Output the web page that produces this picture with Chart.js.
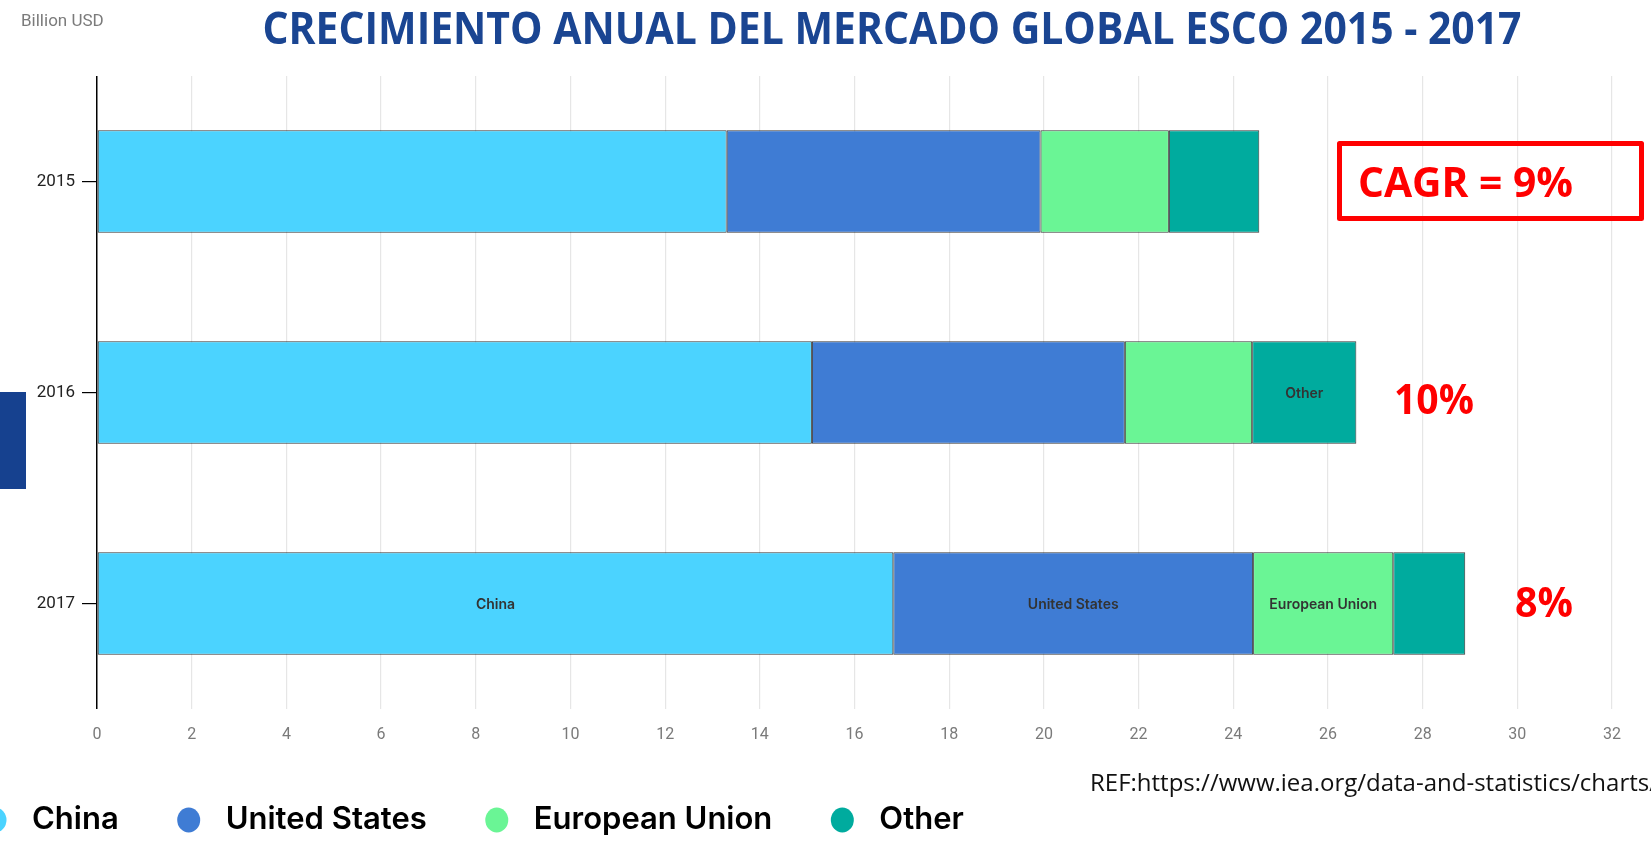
<!DOCTYPE html>
<html>
<head>
<meta charset="utf-8">
<script src="https://cdn.jsdelivr.net/npm/chart.js@4.4.1/dist/chart.umd.min.js"></script>
<style>
  html, body { margin: 0; padding: 0; background: #fff; overflow: hidden; }
  #wrap { position: relative; width: 1651px; height: 844px; }
</style>
</head>
<body>
<div id="wrap"><canvas id="chart" width="1651" height="844"></canvas></div>
<script>
// data (billion USD)
var years = ['2015', '2016', '2017'];
var seriesNames = ['China', 'United States', 'European Union', 'Other'];
var china = [13.3, 15.1, 16.82];
var unitedStates = [6.63, 6.61, 7.6];
var europeanUnion = [2.71, 2.69, 2.96];
var other = [1.91, 2.2, 1.52];
var seriesColors = ['#4bd3ff', '#3f7cd4', '#6af595', '#00ab9e'];
// year in which each series carries its name inside the bar
var labelYears = ['2017', '2017', '2017', '2016'];
var growthLabels = ['CAGR = 9%', '10%', '8%'];
var xMin = 0, xMax = 32, xStep = 2;

var chartTitle = 'CRECIMIENTO ANUAL DEL MERCADO GLOBAL ESCO 2015 - 2017';
var unitLabel = 'Billion USD';
var refText = 'REF:https://www.iea.org/data-and-statistics/charts/';

function fitText(ctx, text, x, y, width, align) {
  var w = ctx.measureText(text).width;
  var s = Math.min(1, width / w);
  ctx.save();
  ctx.translate(x, y);
  ctx.scale(s, 1);
  ctx.textAlign = align || 'left';
  ctx.fillText(text, 0, 0);
  ctx.restore();
}

var extras = {
  id: 'extras',
  afterDatasetsDraw: function (chart) {
    var ctx = chart.ctx;
    // names inside the bars
    ctx.save();
    ctx.fillStyle = '#333';
    ctx.font = '600 14px Inter';
    ctx.textAlign = 'center';
    ctx.textBaseline = 'middle';
    chart.data.datasets.forEach(function (ds, i) {
      var idx = years.indexOf(labelYears[i]);
      var bar = chart.getDatasetMeta(i).data[idx];
      var cx = (bar.x + bar.base) / 2;
      ctx.fillText(ds.label, cx, bar.y + 1);
    });
    ctx.restore();
  },
  afterDraw: function (chart) {
    var ctx = chart.ctx;
    var yScale = chart.scales.y;
    ctx.save();

    // title
    ctx.fillStyle = '#1a4592';
    ctx.font = 'bold 45px "Open Sans"';
    ctx.textBaseline = 'alphabetic';
    fitText(ctx, chartTitle, 892, 44, 1259, 'center');

    // unit
    ctx.fillStyle = '#7b7b7b';
    ctx.font = '17px Roboto';
    ctx.textAlign = 'left';
    ctx.textBaseline = 'middle';
    ctx.fillText(unitLabel, 21, 22);

    // dark side marker
    ctx.fillStyle = '#16418f';
    ctx.fillRect(0, 392, 26, 97);

    // growth annotations
    ctx.fillStyle = '#ff0000';
    ctx.font = 'bold 42px "Open Sans"';
    ctx.textBaseline = 'alphabetic';
    var y0 = yScale.getPixelForValue(0);
    var y1 = yScale.getPixelForValue(1);
    var y2 = yScale.getPixelForValue(2);
    fitText(ctx, growthLabels[0], 1358, y0 + 15, 215, 'left');
    fitText(ctx, growthLabels[1], 1394, y1 + 21, 80, 'left');
    fitText(ctx, growthLabels[2], 1515, y2 + 13, 58, 'left');
    ctx.strokeStyle = '#ff0000';
    ctx.lineWidth = 5;
    ctx.lineJoin = 'round';
    ctx.strokeRect(1339.5, 143.5, 302, 75);

    // source
    ctx.fillStyle = '#111';
    ctx.font = '24px "Open Sans"';
    ctx.textAlign = 'left';
    ctx.textBaseline = 'middle';
    ctx.fillText(refText, 1090, 784);

    // legend
    var lx = -5, ly = 820;
    ctx.font = '600 31px Inter';
    chart.data.datasets.forEach(function (ds) {
      ctx.fillStyle = ds.backgroundColor;
      ctx.beginPath();
      ctx.ellipse(lx, ly, 11.5, 12.5, 0, 0, Math.PI * 2);
      ctx.fill();
      ctx.fillStyle = '#000';
      ctx.fillText(ds.label, lx + 37, ly);
      lx = lx + 37 + ctx.measureText(ds.label).width + 70;
    });
    ctx.restore();
  }
};

var seriesValues = [china, unitedStates, europeanUnion, other];

new Chart(document.getElementById('chart'), {
  type: 'bar',
  data: {
    labels: years,
    datasets: seriesNames.map(function (name, i) {
      return {
        label: name,
        data: seriesValues[i],
        backgroundColor: seriesColors[i],
        borderColor: 'rgba(20,20,20,0.85)',
        borderWidth: 1,
        borderSkipped: false,
        barPercentage: 0.485,
        categoryPercentage: 1
      };
    })
  },
  options: {
    indexAxis: 'y',
    responsive: false,
    animation: false,
    devicePixelRatio: 1,
    layout: { padding: { left: 0, right: 39, top: 76, bottom: 90 } },
    scales: {
      x: {
        stacked: true,
        min: xMin,
        max: xMax,
        ticks: { stepSize: xStep, color: '#7a7a7a', font: { family: 'Roboto', size: 16 }, padding: 16 },
        grid: {
          drawTicks: false,
          color: function (c) { return c.tick && c.tick.value === 0 ? '#000' : '#e6e6e6'; },
          lineWidth: function (c) { return c.tick && c.tick.value === 0 ? 1.5 : 1.2; }
        },
        border: { display: false },
        afterFit: function (s) { s.height = 45; }
      },
      y: {
        stacked: true,
        ticks: { color: '#222', font: { family: 'Roboto', size: 17 }, padding: 7 },
        grid: { offset: false, drawOnChartArea: false, color: '#000', tickLength: 15, lineWidth: 1.2 },
        border: { display: false },
        afterFit: function (s) { s.width = 97; }
      }
    },
    plugins: { legend: { display: false }, tooltip: { enabled: false } }
  },
  plugins: [extras]
});
</script>
</body>
</html>
